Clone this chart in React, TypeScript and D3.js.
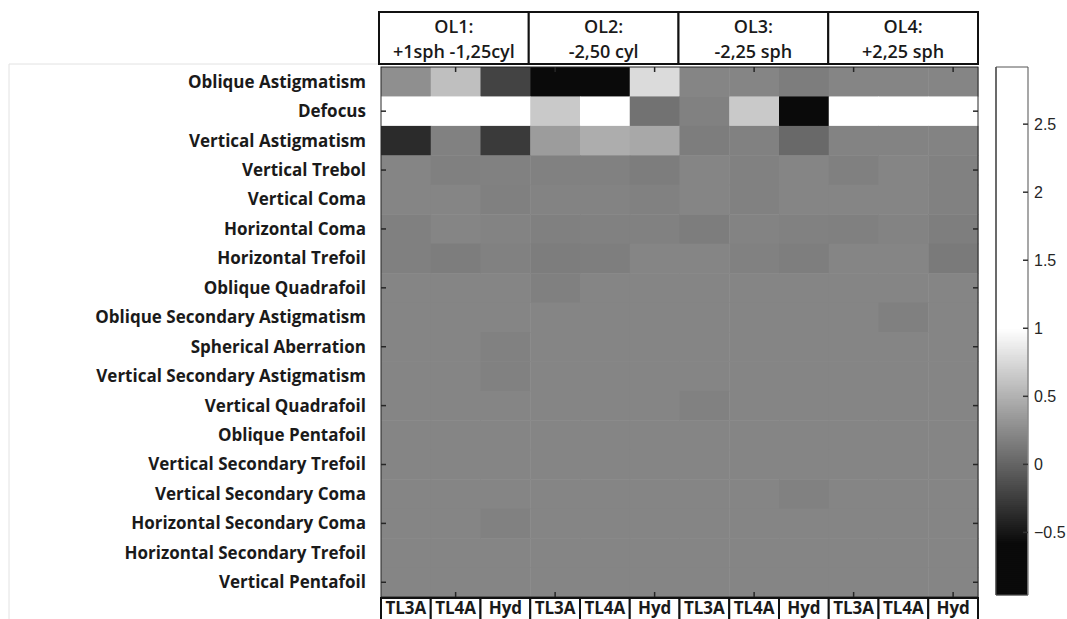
import React, { useEffect, useRef } from 'react';
import * as d3 from 'd3';

// row labels (Zernike terms)
const aberrations = [
  "Oblique Astigmatism", "Defocus", "Vertical Astigmatism", "Vertical Trebol",
  "Vertical Coma", "Horizontal Coma", "Horizontal Trefoil", "Oblique Quadrafoil",
  "Oblique Secondary Astigmatism", "Spherical Aberration", "Vertical Secondary Astigmatism",
  "Vertical Quadrafoil", "Oblique Pentafoil", "Vertical Secondary Trefoil",
  "Vertical Secondary Coma", "Horizontal Secondary Coma", "Horizontal Secondary Trefoil",
  "Vertical Pentafoil",
];

const groupNames = ["OL1:", "OL2:", "OL3:", "OL4:"];
const groupSubs = ["+1sph -1,25cyl", "-2,50 cyl", "-2,25 sph", "+2,25 sph"];
const lenses = ["TL3A", "TL4A", "Hyd"];

// one array per row, 12 columns (OL1..OL4 x TL3A/TL4A/Hyd)
const obliqueAstig = [0.28, 0.59, -0.21, -0.90, -0.88, 0.77, 0.21, 0.21, 0.16, 0.21, 0.21, 0.21];
const defocus = [2.30, 2.70, 2.85, 0.65, 1.20, 0.09, 0.19, 0.65, -0.96, 2.50, 2.92, 2.60];
const verticalAstig = [-0.37, 0.19, -0.27, 0.36, 0.47, 0.44, 0.16, 0.19, 0.03, 0.20, 0.20, 0.20];
const verticalTrebol = [0.21, 0.18, 0.19, 0.19, 0.19, 0.16, 0.21, 0.19, 0.21, 0.18, 0.21, 0.19];
const verticalComa = [0.21, 0.21, 0.18, 0.20, 0.20, 0.19, 0.21, 0.19, 0.21, 0.21, 0.21, 0.19];
const horizontalComa = [0.18, 0.21, 0.20, 0.18, 0.19, 0.19, 0.16, 0.20, 0.19, 0.18, 0.20, 0.17];
const horizontalTrefoil = [0.18, 0.16, 0.19, 0.16, 0.17, 0.21, 0.21, 0.19, 0.17, 0.21, 0.21, 0.14];
const obliqueQuadrafoil = [0.21, 0.21, 0.21, 0.18, 0.21, 0.21, 0.21, 0.21, 0.21, 0.21, 0.21, 0.21];
const obliqueSecAstig = [0.21, 0.21, 0.21, 0.21, 0.21, 0.21, 0.21, 0.21, 0.21, 0.21, 0.18, 0.21];
const spherical = [0.21, 0.21, 0.19, 0.21, 0.21, 0.21, 0.21, 0.21, 0.21, 0.21, 0.21, 0.21];
const verticalSecAstig = [0.21, 0.21, 0.19, 0.21, 0.21, 0.21, 0.21, 0.21, 0.21, 0.21, 0.21, 0.21];
const verticalQuadrafoil = [0.21, 0.21, 0.21, 0.21, 0.21, 0.21, 0.19, 0.21, 0.21, 0.21, 0.21, 0.21];
const obliquePentafoil = [0.21, 0.21, 0.21, 0.21, 0.21, 0.21, 0.21, 0.21, 0.21, 0.21, 0.21, 0.21];
const verticalSecTrefoil = [0.21, 0.21, 0.21, 0.21, 0.21, 0.21, 0.21, 0.21, 0.21, 0.21, 0.21, 0.21];
const verticalSecComa = [0.21, 0.21, 0.21, 0.21, 0.21, 0.21, 0.21, 0.21, 0.19, 0.21, 0.21, 0.21];
const horizontalSecComa = [0.21, 0.21, 0.19, 0.21, 0.21, 0.21, 0.21, 0.21, 0.21, 0.21, 0.21, 0.21];
const horizontalSecTrefoil = [0.21, 0.21, 0.21, 0.21, 0.21, 0.21, 0.21, 0.21, 0.21, 0.21, 0.21, 0.21];
const verticalPentafoil = [0.21, 0.21, 0.21, 0.21, 0.21, 0.21, 0.21, 0.21, 0.21, 0.21, 0.21, 0.21];

const rows = [
  obliqueAstig, defocus, verticalAstig, verticalTrebol, verticalComa, horizontalComa,
  horizontalTrefoil, obliqueQuadrafoil, obliqueSecAstig, spherical, verticalSecAstig,
  verticalQuadrafoil, obliquePentafoil, verticalSecTrefoil, verticalSecComa,
  horizontalSecComa, horizontalSecTrefoil, verticalPentafoil,
];

const cbTicks = [-0.5, 0, 0.5, 1, 1.5, 2, 2.5];

export default function App() {
  const ref = useRef<SVGSVGElement>(null);

  useEffect(() => {
    const svg = d3.select(ref.current);
    svg.selectAll("*").remove();

    const width = 1067;
    const height = 619;
    const plot = { left: 381, right: 978, top: 67, bottom: 597 };
    const labelFont = "'Open Sans', Lato, sans-serif";
    const axisColor = "#262626";

    const columns = groupNames.flatMap((g, gi) => lenses.map(l => `${gi}-${l}`));

    const x = d3.scaleBand().domain(columns).range([plot.left, plot.right]);
    const y = d3.scaleBand().domain(aberrations).range([plot.top, plot.bottom]);
    const xGroup = d3.scaleBand().domain(groupNames).range([plot.left - 2, plot.right]);

    const allVals = rows.flat();
    const vmin = d3.min(allVals) as number;
    const vmax = d3.max(allVals) as number;

    // grey colormap: black below ~-0.58, saturates to white at 1
    const color = d3.scaleLinear<string>()
      .domain([-0.58, 1.0])
      .range(["#0a0a0a", "#ffffff"])
      .clamp(true);

    svg.attr("width", width).attr("height", height);

    // faint outer frame
    svg.append("path")
      .attr("d", `M9,${height} V64 H${plot.left - 2}`)
      .attr("fill", "none")
      .attr("stroke", "#e2e2e2")
      .attr("stroke-width", 1);

    // cells
    const cells = rows.flatMap((r, ri) => r.map((v, ci) => ({ row: aberrations[ri], col: columns[ci], v })));
    svg.append("g")
      .selectAll("rect")
      .data(cells)
      .enter().append("rect")
      .attr("x", d => x(d.col) as number)
      .attr("y", d => y(d.row) as number)
      .attr("width", x.bandwidth() + 0.5)
      .attr("height", y.bandwidth() + 0.5)
      .attr("fill", d => color(d.v));

    // axes box
    svg.append("rect")
      .attr("x", plot.left).attr("y", plot.top)
      .attr("width", plot.right - plot.left).attr("height", plot.bottom - plot.top)
      .attr("fill", "none").attr("stroke", axisColor).attr("stroke-width", 1);

    // ticks at every second row/column, pointing inward
    const tickRows = aberrations.filter((_, i) => i % 2 === 1);
    const tickCols = columns.filter((_, i) => i % 2 === 1);
    const tk = svg.append("g").attr("stroke", axisColor).attr("stroke-width", 1.5);
    tickRows.forEach(r => {
      const yy = (y(r) as number) + y.bandwidth() / 2;
      tk.append("line").attr("x1", plot.left).attr("x2", plot.left + 5).attr("y1", yy).attr("y2", yy);
      tk.append("line").attr("x1", plot.right).attr("x2", plot.right - 5).attr("y1", yy).attr("y2", yy);
    });
    tickCols.forEach(c => {
      const xx = (x(c) as number) + x.bandwidth() / 2;
      tk.append("line").attr("x1", xx).attr("x2", xx).attr("y1", plot.top).attr("y2", plot.top + 5);
      tk.append("line").attr("x1", xx).attr("x2", xx).attr("y1", plot.bottom).attr("y2", plot.bottom - 5);
    });

    // row labels
    svg.append("g")
      .selectAll("text")
      .data(aberrations)
      .enter().append("text")
      .attr("x", 366)
      .attr("y", d => (y(d) as number) + y.bandwidth() / 2)
      .attr("dy", "0.35em")
      .attr("text-anchor", "end")
      .attr("font-family", labelFont)
      .attr("font-weight", "bold")
      .attr("font-size", 17)
      .attr("fill", "#1a1a1a")
      .text(d => d);

    // header group boxes
    const head = svg.append("g");
    groupNames.forEach((g, gi) => {
      const gx = xGroup(g) as number;
      head.append("rect")
        .attr("x", gx).attr("y", 12)
        .attr("width", xGroup.bandwidth()).attr("height", 52)
        .attr("fill", "#fff").attr("stroke", "#111").attr("stroke-width", 2);
      head.append("text")
        .attr("x", gx + xGroup.bandwidth() / 2).attr("y", 27).attr("dy", "0.35em")
        .attr("text-anchor", "middle").attr("font-family", labelFont)
        .attr("font-weight", 600)
        .attr("font-size", 18).attr("fill", "#1a1a1a")
        .text(g);
      head.append("text")
        .attr("x", gx + xGroup.bandwidth() / 2).attr("y", 52).attr("dy", "0.35em")
        .attr("text-anchor", "middle").attr("font-family", labelFont)
        .attr("font-weight", 600)
        .attr("font-size", 18).attr("fill", "#1a1a1a")
        .text(groupSubs[gi]);
    });

    // bottom lens labels
    const foot = svg.append("g");
    columns.forEach(c => {
      const cx = x(c) as number;
      foot.append("rect")
        .attr("x", cx).attr("y", plot.bottom + 1)
        .attr("width", x.bandwidth()).attr("height", 30)
        .attr("fill", "#fff").attr("stroke", "#111").attr("stroke-width", 2);
      foot.append("text")
        .attr("x", cx + x.bandwidth() / 2).attr("y", 608).attr("dy", "0.35em")
        .attr("text-anchor", "middle").attr("font-family", labelFont)
        .attr("font-weight", "bold").attr("font-size", 17).attr("fill", "#1a1a1a")
        .text(c.split("-")[1]);
    });

    // colorbar
    const cb = { left: 996, right: 1028, top: 67, bottom: 595 };
    const cy = d3.scaleLinear().domain([vmin, vmax]).range([cb.bottom, cb.top]);
    const steps = d3.range(0, 264).map(i => vmin + (vmax - vmin) * i / 264);
    const stepH = (cb.bottom - cb.top) / 264;
    svg.append("g")
      .selectAll("rect")
      .data(steps)
      .enter().append("rect")
      .attr("x", cb.left)
      .attr("y", d => cy(d) - stepH - 0.3)
      .attr("width", cb.right - cb.left)
      .attr("height", stepH + 0.6)
      .attr("fill", d => color(d + (vmax - vmin) / 528));
    svg.append("line")
      .attr("x1", cb.left).attr("x2", cb.left).attr("y1", cb.top).attr("y2", cb.bottom)
      .attr("stroke", "#3a3a3a").attr("stroke-width", 1.5);
    svg.append("line")
      .attr("x1", cb.right).attr("x2", cb.right).attr("y1", cb.top).attr("y2", cb.bottom)
      .attr("stroke", "#8a8a8a").attr("stroke-width", 1.5);
    svg.append("line")
      .attr("x1", cb.left).attr("x2", cb.right).attr("y1", cb.top).attr("y2", cb.top)
      .attr("stroke", "#555").attr("stroke-width", 1);
    svg.append("line")
      .attr("x1", cb.left).attr("x2", cb.right).attr("y1", cb.bottom).attr("y2", cb.bottom)
      .attr("stroke", "#555").attr("stroke-width", 1);

    const cbAxis = svg.append("g");
    cbTicks.forEach(t => {
      cbAxis.append("line")
        .attr("x1", cb.right - 5).attr("x2", cb.right)
        .attr("y1", cy(t)).attr("y2", cy(t))
        .attr("stroke", "#333").attr("stroke-width", 1.5);
      cbAxis.append("text")
        .attr("x", cb.right + 6).attr("y", cy(t)).attr("dy", "0.35em")
        .attr("font-family", "'Liberation Sans', Arial, sans-serif")
        .attr("font-size", 16).attr("fill", "#262626")
        .text(d3.format("")(t));
    });
  }, []);

  return (
    <div>
      <svg ref={ref} style={{ position: "absolute", left: 0, top: 0 }}></svg>
    </div>
  );
}
